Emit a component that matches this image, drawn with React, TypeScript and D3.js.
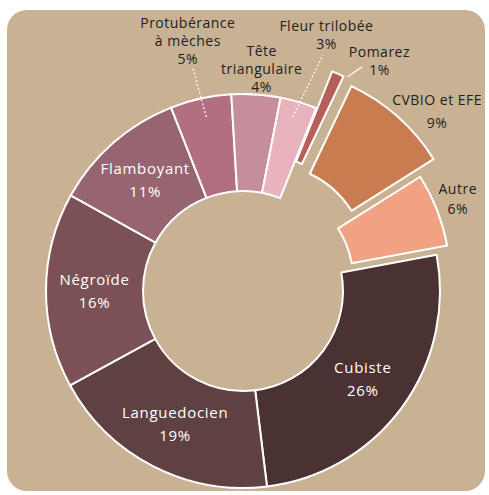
import React from 'react'
import * as d3 from 'd3'

// clockwise from the Cubiste slice
const categories = ['Cubiste', 'Languedocien', 'Négroïde', 'Flamboyant', 'Protubérance à mèches', 'Tête triangulaire', 'Fleur trilobée', 'Pomarez', 'CVBIO et EFE', 'Autre']
const values = [26, 19, 16, 11, 5, 4, 3, 1, 9, 6]
const labelLines = [['Cubiste'], ['Languedocien'], ['Négroïde'], ['Flamboyant'], ['Protubérance', 'à mèches'], ['Tête', 'triangulaire'], ['Fleur trilobée'], ['Pomarez'], ['CVBIO et EFE'], ['Autre']]
const colors = ['#4a3132', '#5f4142', '#7b5155', '#976570', '#b16f7f', '#c68d9b', '#e8b3bd', '#b65f58', '#c97c4f', '#f0a283']

const width = 489
const height = 495
const cx = 243
const cy = 291
const outerR = 197
const innerR = 100
const deg = Math.PI / 180

// explode distance + direction nudge, label placement (radius, angle nudge in degrees, line gap), leader line
const explode: Record<string, { d: number; da: number }> = {
  'Pomarez': { d: 40, da: 0 },
  'CVBIO et EFE': { d: 36, da: 0 },
  'Autre': { d: 14, da: -20 },
}
const outsideLabels: Record<string, { r: number; da: number; gap: number }> = {
  'Protubérance à mèches': { r: 257, da: 0, gap: 18 },
  'Tête triangulaire': { r: 223, da: 1, gap: 18 },
  'Fleur trilobée': { r: 270, da: 1.6, gap: 18 },
  'Pomarez': { r: 268, da: 7, gap: 18 },
  'CVBIO et EFE': { r: 265, da: 5.5, gap: 23 },
  'Autre': { r: 234, da: -2, gap: 20 },
}
const leaders: Record<string, { r0: number; r1: number; da0: number; da1: number; dashed: boolean }> = {
  'Protubérance à mèches': { r0: 178, r1: 230, da0: 0.5, da1: -0.3, dashed: true },
  'Fleur trilobée': { r0: 181, r1: 249, da0: -0.4, da1: 2.3, dashed: true },
  'Pomarez': { r0: 238, r1: 254, da0: 2.4, da1: 4.4, dashed: false },
}

const polar = (r: number, a: number): [number, number] => [r * Math.sin(a), -r * Math.cos(a)]

export default function App() {
  const start = 79.4 * deg
  const pie = d3.pie<number>().sort(null).value(d => d).startAngle(start).endAngle(start + 2 * Math.PI)
  const arcs = pie(values)
  const arc = d3.arc<d3.PieArcDatum<number>>().innerRadius(innerR).outerRadius(outerR)
  const font = "'Open Sans', 'Noto Sans', sans-serif"

  return (
    <div style={{ position: 'absolute', left: 0, top: 0 }}>
      <svg width={width} height={height}>
        <rect x={0} y={0} width={width} height={height} fill="#ffffff" />
        <rect x={7} y={10} width={478} height={481} rx={20} fill="#c8b293" />
        <g transform={`translate(${cx},${cy})`}>
          {arcs.map((a, i) => {
            const name = categories[i]
            const mid = (a.startAngle + a.endAngle) / 2
            const ex = explode[name]
            const [ox, oy] = ex ? polar(ex.d, mid + ex.da * deg) : [0, 0]
            return (
              <path key={name} d={arc(a) || ''} transform={`translate(${ox},${oy})`}
                fill={colors[i]} stroke="#ffffff" strokeWidth={2} strokeLinejoin="round" />
            )
          })}
          {arcs.map((a, i) => {
            const ld = leaders[categories[i]]
            if (!ld) return null
            const mid = (a.startAngle + a.endAngle) / 2
            const [x0, y0] = polar(ld.r0, mid + ld.da0 * deg)
            const [x1, y1] = polar(ld.r1, mid + ld.da1 * deg)
            return (
              <line key={'l' + i} x1={x0} y1={y0} x2={x1} y2={y1} stroke="#ffffff"
                strokeWidth={1.2} strokeDasharray={ld.dashed ? '2,2' : undefined} />
            )
          })}
          {arcs.map((a, i) => {
            const name = categories[i]
            const mid = (a.startAngle + a.endAngle) / 2
            const out = outsideLabels[name]
            const lines = [...labelLines[i], `${values[i]}%`]
            let x: number, y: number, gap: number
            if (out) {
              ;[x, y] = polar(out.r, mid + out.da * deg)
              gap = out.gap
            } else {
              ;[x, y] = arc.centroid(a)
              gap = 23
            }
            const top = y - (gap * (lines.length - 1)) / 2
            return (
              <text key={'t' + i} textAnchor="middle" fontFamily={font}
                fontSize={out ? 14 : 15} fill={out ? '#222222' : '#ffffff'}
                letterSpacing={out ? 0.5 : 0.7}>
                {lines.map((t, j) => (
                  <tspan key={j} x={x} y={top + j * gap} dominantBaseline="central">{t}</tspan>
                ))}
              </text>
            )
          })}
        </g>
      </svg>
    </div>
  )
}
